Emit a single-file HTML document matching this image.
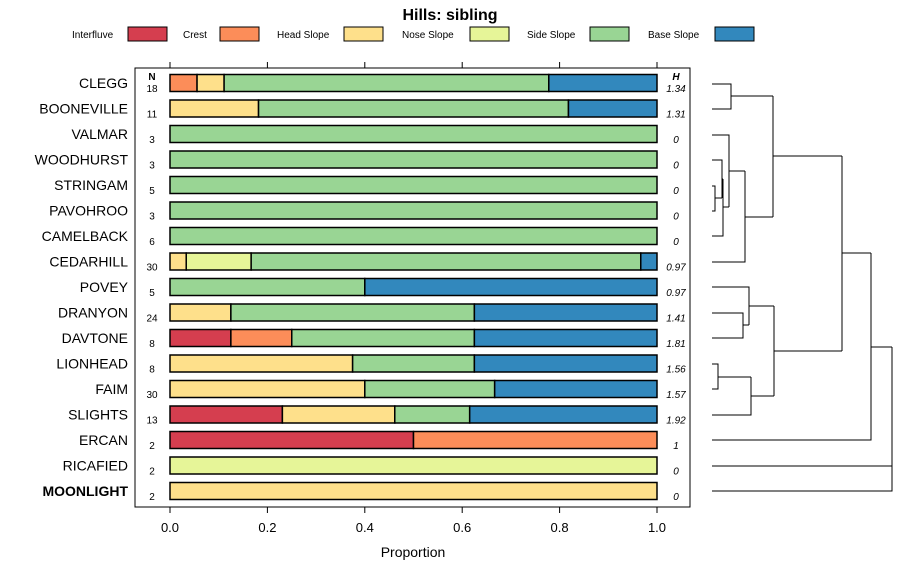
<!DOCTYPE html>
<html><head><meta charset="utf-8"><style>
body{margin:0;background:#fff;font-family:"Liberation Sans",sans-serif}
svg text{font-family:"Liberation Sans",sans-serif}
</style></head><body>
<svg id="chart" width="900" height="580" viewBox="0 0 900 580" xmlns="http://www.w3.org/2000/svg">
<text x="450" y="20" text-anchor="middle" font-size="16" font-weight="bold">Hills: sibling</text>
<g id="legend"></g>
<rect x="135" y="68" width="555" height="439" fill="none" stroke="#000" stroke-width="1"/>
<g id="axis"></g>
<g id="rows"></g>
<text x="152" y="80" text-anchor="middle" font-size="10" font-weight="bold">N</text>
<text x="676" y="80" text-anchor="middle" font-size="10" font-weight="bold" font-style="italic">H</text>
<text x="413" y="557" text-anchor="middle" font-size="14">Proportion</text>
<g id="dendro" stroke="#000" stroke-width="1" fill="none"></g>
</svg>
<script>
const classes=["Interfluve","Crest","Head Slope","Nose Slope","Side Slope","Base Slope"];
const colors=["#D53E4F","#FC8D59","#FEE08B","#E6F598","#99D594","#3288BD"];
const names=["CLEGG","BOONEVILLE","VALMAR","WOODHURST","STRINGAM","PAVOHROO","CAMELBACK","CEDARHILL","POVEY","DRANYON","DAVTONE","LIONHEAD","FAIM","SLIGHTS","ERCAN","RICAFIED","MOONLIGHT"];
const counts=[18,11,3,3,5,3,6,30,5,24,8,8,30,13,2,2,2];
const entropy=["1.34","1.31","0","0","0","0","0","0.97","0.97","1.41","1.81","1.56","1.57","1.92","1","0","0"];
const props=[
[0,1/18,1/18,0,12/18,4/18],
[0,0,2/11,0,7/11,2/11],
[0,0,0,0,1,0],[0,0,0,0,1,0],[0,0,0,0,1,0],[0,0,0,0,1,0],[0,0,0,0,1,0],
[0,0,1/30,4/30,24/30,1/30],
[0,0,0,0,0.4,0.6],
[0,0,3/24,0,12/24,9/24],
[1/8,1/8,0,0,3/8,3/8],
[0,0,3/8,0,2/8,3/8],
[0,0,12/30,0,8/30,10/30],
[3/13,0,3/13,0,2/13,5/13],
[0.5,0.5,0,0,0,0],
[0,0,0,1,0,0],
[0,0,1,0,0,0]];
const ticks=[0,0.2,0.4,0.6,0.8,1.0];
const NS="http://www.w3.org/2000/svg";
const X=v=>170+v*487;
const Y=i=>83+i*25.5;
function mk(tag,at,parent,txt){const e=document.createElementNS(NS,tag);for(const k in at)e.setAttribute(k,at[k]);if(txt!==undefined)e.textContent=txt;parent.appendChild(e);return e;}
// legend
const lg=document.getElementById('legend');
const lx=[[72,128],[183,220],[277,344],[402,470],[527,590],[648,715]];
classes.forEach((c,i)=>{
 const t=mk('text',{x:lx[i][0],y:38,'font-size':10},lg,c);
 
 
 const r=mk('rect',{x:lx[i][1],y:27,width:39,height:14,fill:colors[i],stroke:'#000'},lg);
 
 
});
// axis
const ax=document.getElementById('axis');
ticks.forEach(t=>{
 mk('line',{x1:X(t),x2:X(t),y1:62,y2:68,stroke:'#000'},ax);
 mk('line',{x1:X(t),x2:X(t),y1:507,y2:513,stroke:'#000'},ax);
 const l=mk('text',{x:X(t),y:532,'text-anchor':'middle','font-size':13},ax,t.toFixed(1));
 
 
});
// rows
const rg=document.getElementById('rows');
names.forEach((n,i)=>{
 const y=Y(i);
 const lab=mk('text',{x:128,y:y+5,'text-anchor':'end','font-size':14,'font-weight':n==="MOONLIGHT"?'bold':'normal'},rg,n);
 
 
 const nt=mk('text',{x:152,y:y+9,'text-anchor':'middle','font-size':10},rg,String(counts[i]));
 
 
 const ht=mk('text',{x:676,y:y+9,'text-anchor':'middle','font-size':10,'font-style':'italic'},rg,entropy[i]);
 
 
 let c=0;
 props[i].forEach((p,k)=>{
  if(p<=0)return;
  const r=mk('rect',{x:X(c),y:y-8.5,width:X(c+p)-X(c),height:17,fill:colors[k],stroke:'#000','stroke-width':1.5},rg);
  
  
  c+=p;
 });
});
// dendrogram
const dg=document.getElementById('dendro');
const segs=[
"M712 84H731V109H712","M731 96H773",
"M712 160H722V198","M712 186H715V211H712","M715 198H722","M722 179H723","M712 236H723V179",
"M723 207H729","M712 135H729V207","M729 171H745","M712 262H745V171","M745 217H773","M773 96V217","M773 156H842",
"M712 313H743V338H712","M743 325H749","M712 287H749V325","M749 306H774",
"M712 364H718V389H712","M718 377H751","M712 415H751V377","M751 396H774","M774 306V396","M774 351H842",
"M842 156V351","M842 253H871","M712 440H871V253","M871 347H892","M712 466H892","M712 491H892V347"];
segs.forEach(d=>{const p=mk('path',{d:d},dg);
 
 });
</script>
</body></html>
